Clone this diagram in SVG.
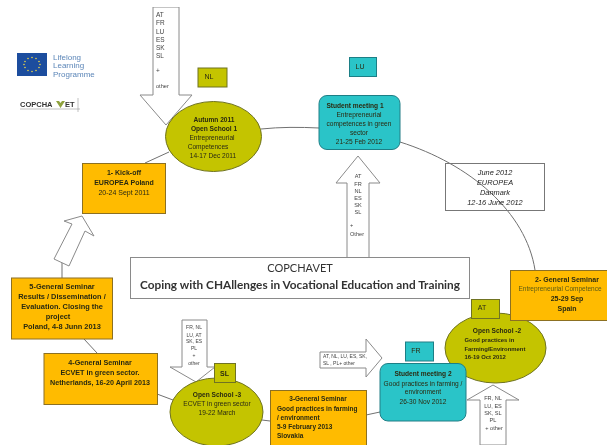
<svg xmlns="http://www.w3.org/2000/svg" width="607" height="445" viewBox="0 0 607 445">
<style>
text{font-family:"Liberation Sans",Arial,sans-serif;font-size:6.6px;fill:#2a2a10;text-anchor:middle}
.b{font-weight:bold}
.l{text-anchor:start}
.i{font-style:italic;font-size:7.4px;fill:#222}
.o{fill:#FFBB00;stroke:#8C6F24;stroke-width:1}
.e{fill:#C4C400;stroke:#6F7320;stroke-width:1}
.t{fill:#2CC4C8;stroke:#1F7F86;stroke-width:1}
.w{fill:#fff;stroke:#8A8A8A;stroke-width:1}
.s{font-size:5.6px;fill:#444}
.s5{font-size:5px;fill:#444}
.a1{font-size:6.500px;fill:#444}
.tag{font-size:7px}
.c{fill:none;stroke:#707070;stroke-width:1}
.m{font-size:7px}
.n{font-size:7.400px}
.f{font-size:7.200px}
.g{font-size:6.500px}
.h{font-size:5.900px}
</style>
<defs><filter id="soft" x="0" y="0" width="100%" height="100%"><feGaussianBlur stdDeviation="0.3"/></filter></defs>
<rect width="607" height="445" fill="#fff"/>
<g filter="url(#soft)">
<g id="connectors">
<path class="c" d="M145 163L169 152"/>
<path class="c" d="M261 129C280 127 300 127 319 128"/>
<path class="c" d="M400 142C470 164 526 212 535 270"/>
<path class="c" d="M62 278V262"/>
<path class="c" d="M84 339L97 353"/>
<path class="c" d="M157 394L173 400"/>
<path class="c" d="M262 420L270 421"/>
<path class="c" d="M366 415L380 412"/>
</g>

<g id="logo-llp">
<rect x="17" y="53" width="30" height="23" fill="#1F4E9E"/>
<g fill="#E8D44A">
<circle cx="32" cy="57.500" r=".8"/><circle cx="36" cy="58.500" r=".8"/><circle cx="39" cy="61.500" r=".8"/><circle cx="40" cy="64.500" r=".8"/><circle cx="39" cy="67.500" r=".8"/><circle cx="36" cy="70.500" r=".8"/><circle cx="32" cy="71.500" r=".8"/><circle cx="28" cy="70.500" r=".8"/><circle cx="25" cy="67.500" r=".8"/><circle cx="24" cy="64.500" r=".8"/><circle cx="25" cy="61.500" r=".8"/><circle cx="28" cy="58.500" r=".8"/>
</g>
<text class="l" x="53" y="59.500" style="font-size:8px;fill:#5C86B8">Lifelong</text>
<text class="l" x="53" y="68" style="font-size:8px;fill:#5C86B8">Learning</text>
<text class="l" x="53" y="76.500" style="font-size:8px;fill:#5C86B8">Programme</text>
</g>

<g id="logo-copchavet">
<text class="l b" x="20" y="107" style="font-size:7.500px;fill:#333">COPCHA</text>
<path d="M56 101L59 101L60.500 103L62 101L65 101L60.500 108Z" fill="#8FA23C"/>
<text class="l b" x="65" y="107" style="font-size:7.500px;fill:#333">ET</text>
<path d="M20 109H80M78 98V112" stroke="#999" stroke-width=".6" fill="none"/>
</g>

<g id="arrow-open1">
<path class="w" d="M153 7H179V95H192L166 125L140 95H153Z"/>
<text class="l a1" x="156" y="17">AT</text>
<text class="l a1" x="156" y="25">FR</text>
<text class="l a1" x="156" y="33.500">LU</text>
<text class="l a1" x="156" y="41.500">ES</text>
<text class="l a1" x="156" y="49.500">SK</text>
<text class="l a1" x="156" y="58">SL</text>
<text class="l a1" x="156" y="73">+</text>
<text class="l s" x="156" y="88">other</text>
</g>

<g id="tag-nl"><rect x="198" y="68" width="29" height="19" fill="#C4C400" stroke="#6F7320"/><text class="tag" x="209" y="79">NL</text></g>

<g id="node-open1">
<ellipse class="e" cx="213.500" cy="136.500" rx="48" ry="35"/>
<text class="b" x="214" y="122">Autumn 2011</text>
<text class="b" x="214" y="131">Open School 1</text>
<text x="212" y="140">Entrepreneurial</text>
<text x="208" y="149">Competences</text>
<text x="213" y="158">14-17 Dec 2011</text>
</g>

<g id="node-kickoff">
<rect class="o" x="82.500" y="163.500" width="83" height="50"/>
<text class="b m" x="124" y="175">1- Kick-off</text>
<text class="b m" x="124" y="185">EUROPEA Poland</text>
<text class="m" x="124" y="195">20-24 Sept 2011</text>
</g>

<g id="tag-lu"><rect x="349.500" y="57.500" width="27" height="19" fill="#2CC4C8" stroke="#1F7F86"/><text class="tag" x="360" y="69">LU</text></g>

<g id="node-student1">
<rect class="t" x="319" y="95.500" width="81" height="54" rx="8"/>
<text class="b" x="355" y="107.500">Student meeting 1</text>
<text x="359" y="117">Entrepreneurial</text>
<text x="359" y="126">competences in green</text>
<text x="359" y="135">sector</text>
<text x="359" y="144">21-25 Feb 2012</text>
</g>

<g id="arrow-student1">
<path class="w" d="M358 156L380 183H369V258H347V183H336Z"/>
<text class="s" x="358" y="178">AT</text>
<text class="s" x="358" y="185.500">FR</text>
<text class="s" x="358" y="192.500">NL</text>
<text class="s" x="358" y="199.500">ES</text>
<text class="s" x="358" y="206.500">SK</text>
<text class="s" x="358" y="214">SL</text>
<text class="l s" x="350" y="227">+</text>
<text class="l s" x="350" y="236">Other</text>
</g>

<g id="node-denmark">
<rect x="445.500" y="163.500" width="99" height="47" fill="none" stroke="#777"/>
<text class="i" x="495" y="175">June 2012</text>
<text class="i" x="495" y="184.500">EUROPEA</text>
<text class="i" x="495" y="194.500">Danmark</text>
<text class="i" x="495" y="204.500">12-16 June 2012</text>
</g>

<g id="title">
<rect x="130.500" y="257.500" width="339" height="41" fill="#fff" stroke="#8A8A8A"/>
<text x="300" y="272" style="font-family:Lato,sans-serif;font-size:11px;fill:#333">COPCHAVET</text>
<text x="300" y="289" style="font-family:Lato,sans-serif;font-size:11.800px;font-weight:bold;fill:#333">Coping with CHAllenges in Vocational Education and Training</text>
</g>

<g id="arrow-open2">
<path class="w" d="M480 445V400H467L493 385L519 400H506V445Z"/>
<text class="s" x="493" y="400">FR, NL</text>
<text class="s" x="493" y="408">LU, ES</text>
<text class="s" x="493" y="415">SK, SL</text>
<text class="s" x="493" y="422">PL</text>
<text class="s" x="494" y="430">+ other</text>
</g>

<g id="node-open2">
<ellipse class="e" cx="495.500" cy="348" rx="50.500" ry="35"/>
<text class="b" x="497" y="333">Open School -2</text>
<text class="l b h" x="464.500" y="341.500">Good practices in</text>
<text class="l b h" x="464.500" y="350.500">Farming/Environment</text>
<text class="l b h" x="464.500" y="358.500">16-19 Oct 2012</text>
</g>

<g id="tag-at"><rect x="471.500" y="299.500" width="28" height="19" fill="#C4C400" stroke="#6F7320"/><text class="tag" x="482" y="310">AT</text></g>

<g id="node-seminar2">
<rect class="o" x="510.500" y="270.500" width="100" height="50"/>
<text class="b m" x="567" y="282">2- General Seminar</text>
<text x="560" y="291" style="font-size:6.500px;fill:#5a5a10">Entrepreneurial Competence</text>
<text class="b m" x="567" y="301">25-29 Sep</text>
<text class="b m" x="567" y="311">Spain</text>
</g>

<g id="arrow-student2">
<path class="w" d="M320 352H366V339L382 358L366 377V368H320Z"/>
<text class="l s5" x="323" y="357.500">AT, NL, LU, ES, SK,</text>
<text class="l s5" x="323" y="365">SL , PL+ other</text>
</g>

<g id="tag-fr"><rect x="405.500" y="342" width="28" height="19" fill="#2CC4C8" stroke="#1F7F86"/><text class="tag" x="416" y="353">FR</text></g>

<g id="node-student2">
<rect class="t" x="380" y="363.500" width="86" height="57.500" rx="8"/>
<text class="b" x="423" y="376">Student meeting 2</text>
<text x="423" y="385.500">Good practices in farming /</text>
<text x="423" y="394">environment</text>
<text x="423" y="403.500">26-30 Nov 2012</text>
</g>

<g id="node-seminar3">
<rect class="o" x="270.500" y="390.500" width="96" height="60"/>
<text class="b g" x="318" y="401">3-General Seminar</text>
<text class="l b g" x="277" y="411">Good practices in farming</text>
<text class="l b g" x="277" y="419.500">/ environment</text>
<text class="l b g" x="277" y="428.500">5-9 February 2013</text>
<text class="l b g" x="277" y="438">Slovakia</text>
</g>

<g id="arrow-open3">
<path class="w" d="M182 320H207V367H215L196 382L170 367H182Z"/>
<text class="s5" x="194" y="329">FR, NL</text>
<text class="s5" x="194" y="336.500">LU, AT</text>
<text class="s5" x="194" y="343">SK, ES</text>
<text class="s5" x="194" y="350">PL</text>
<text class="s5" x="194" y="357">+</text>
<text class="s5" x="194" y="365">other</text>
</g>

<g id="node-open3">
<ellipse class="e" cx="216.500" cy="412" rx="46.500" ry="34"/>
<text class="b" x="217" y="397">Open School -3</text>
<text x="217" y="406">ECVET in green sector</text>
<text x="217" y="415">19-22 March</text>
</g>

<g id="tag-sl"><rect x="214.500" y="363.500" width="21" height="19" fill="#C4C400" stroke="#6F7320"/><text class="tag b" x="224.500" y="375.500">SL</text></g>

<g id="node-seminar4">
<rect class="o" x="44" y="353.500" width="113.500" height="51"/>
<text class="b f" x="100" y="364.500">4-General Seminar</text>
<text class="b f" x="100" y="374.500">ECVET in green sector.</text>
<text class="b f" x="100" y="384.500">Netherlands, 16-20 April 2013</text>
</g>

<g id="node-seminar5">
<rect class="o" x="11.500" y="278" width="101" height="61"/>
<text class="b n" x="62" y="288.500">5-General Seminar</text>
<text class="b n" x="62" y="298.500">Results / Dissemination /</text>
<text class="b n" x="62" y="308.500">Evaluation. Closing the</text>
<text class="b n" x="58" y="318.500">project</text>
<text class="b n" x="62" y="328.500">Poland, 4-8 Junn 2013</text>
</g>

<g id="arrow-seminar5">
<path class="w" d="M82 216L94 236L85 231L69 266L54 259L72 224L64 221Z"/>
</g>
</g>
</svg>
